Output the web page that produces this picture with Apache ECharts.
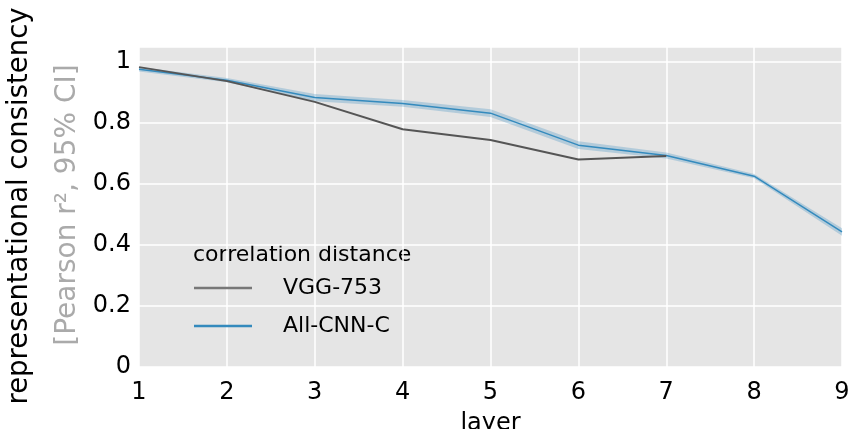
<!DOCTYPE html>
<html>
<head>
<meta charset="utf-8">
<script src="https://cdn.jsdelivr.net/npm/echarts@6/dist/echarts.min.js"></script>
<style>html,body{margin:0;padding:0;background:#fff;}#c{width:851px;height:429px;}</style>
</head>
<body>
<div id="c"></div>
<script>
var layers = ['1','2','3','4','5','6','7','8','9'];
var vgg753 = [0.984, 0.938, 0.870, 0.780, 0.745, 0.681, 0.692, null, null];
var allCnnC = [0.977, 0.941, 0.884, 0.865, 0.833, 0.728, 0.694, 0.626, 0.443];
var allCnnCiHalf = [0.007, 0.007, 0.012, 0.011, 0.013, 0.013, 0.010, 0.007, 0.012];
var yTicks = [0, 0.2, 0.4, 0.6, 0.8, 1];

var ciLower = allCnnC.map(function(v,i){return v - allCnnCiHalf[i];});
var ciWidth = allCnnCiHalf.map(function(h){return 2*h;});

var FONT = 'DejaVu Sans';
var chart = echarts.init(document.getElementById('c'), null, {renderer:'canvas'});
chart.setOption({
  animation: false,
  backgroundColor: '#ffffff',
  textStyle: {fontFamily: FONT},
  grid: {left: 139, right: 9, top: 47, bottom: 62, show: true, backgroundColor: '#e5e5e5', borderWidth: 0,
    containLabel: false, outerBoundsMode: 'none'},
  xAxis: {
    type: 'category', data: layers, boundaryGap: false,
    axisLine: {show: false}, axisTick: {show: false},
    axisLabel: {fontSize: 24, color: '#000', fontFamily: FONT, margin: 14},
    splitLine: {show: true, lineStyle: {color: '#ffffff', width: 1.5}},
    name: 'layer', nameLocation: 'middle', nameGap: 45,
    nameTextStyle: {fontSize: 24, color: '#000', fontFamily: FONT}
  },
  yAxis: {
    type: 'value', min: 0, max: 1.05, interval: 0.2,
    axisLine: {show: false}, axisTick: {show: false},
    axisLabel: {fontSize: 24, color: '#000', fontFamily: FONT, margin: 8, showMaxLabel: false,
      formatter: function(v){ var t = yTicks.find(function(x){return Math.abs(x-v)<1e-6;}); return t===undefined ? '' : String(+t.toFixed(1)); }},
    splitLine: {show: true, lineStyle: {color: '#ffffff', width: 1.5}}
  },
  legend: {
    orient: 'vertical', left: 189, top: 272, itemWidth: 58, itemHeight: 2.5, itemGap: 16,
    icon: 'rect',
    data: [
      {name: 'VGG-753', itemStyle: {color: '#777777'}},
      {name: 'All-CNN-C', itemStyle: {color: '#348ABD'}}
    ],
    textStyle: {fontSize: 22, color: '#000', fontFamily: FONT, padding: [0,0,0,26], lineHeight: 22}
  },
  graphic: [
    {type: 'text', x: 193, y: 255, style: {text: 'correlation distance', font: '22px "DejaVu Sans"', fill: '#000', verticalAlign: 'middle', align: 'left'}},
    {type: 'text', x: 20, y: 206, rotation: Math.PI/2, style: {text: 'representational consistency', font: '27.5px "DejaVu Sans"', fill: '#000', align: 'center', verticalAlign: 'middle'}},
    {type: 'text', x: 68, y: 205, rotation: Math.PI/2, style: {text: '[Pearson r\u00B2, 95% CI]', font: '28px "DejaVu Sans"', fill: '#aaaaaa', align: 'center', verticalAlign: 'middle'}}
  ],
  series: [
    {name: 'ciLow', type: 'line', stack: 'ci', data: ciLower, symbol: 'none', lineStyle: {opacity: 0}, silent: true, z: 1},
    {name: 'ciBand', type: 'line', stack: 'ci', data: ciWidth, symbol: 'none', lineStyle: {opacity: 0},
      areaStyle: {color: '#348ABD', opacity: 0.28}, silent: true, z: 1},
    {name: 'VGG-753', type: 'line', data: vgg753, symbol: 'none', color: '#555555', lineStyle: {color: '#555555', width: 2}, z: 3},
    {name: 'All-CNN-C', type: 'line', data: allCnnC, symbol: 'none', color: '#348ABD', lineStyle: {color: '#348ABD', width: 1.5}, z: 2}
  ]
});
</script>
</body>
</html>
